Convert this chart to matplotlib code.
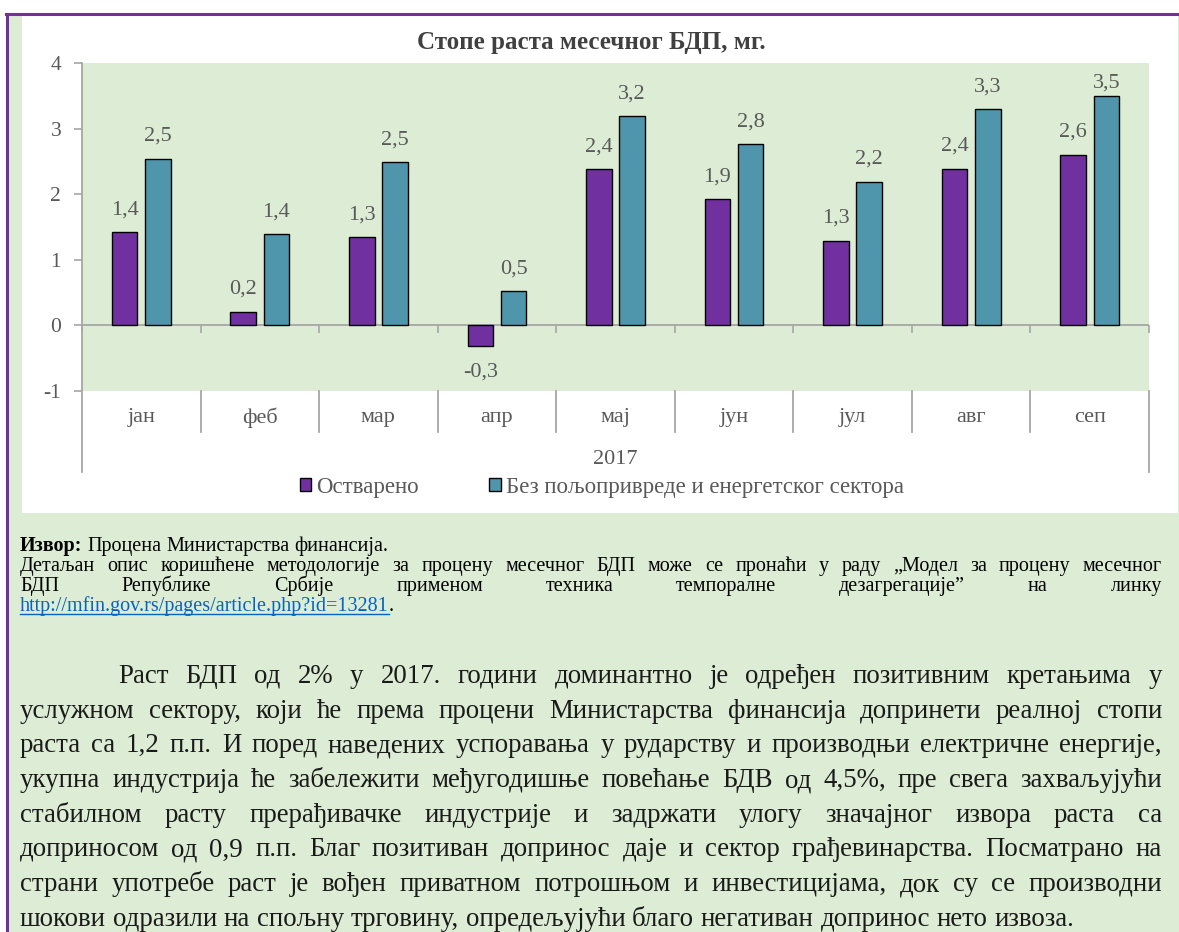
import matplotlib
matplotlib.use("Agg")
import matplotlib.pyplot as plt
import numpy as np
from matplotlib.patches import Rectangle, Patch
from matplotlib.lines import Line2D
from matplotlib.transforms import blended_transform_factory

plt.rcParams['font.family'] = ['Liberation Serif', 'DejaVu Serif']
plt.rcParams['axes.unicode_minus'] = False

# data
months = ['јан', 'феб', 'мар', 'апр', 'мај', 'јун', 'јул', 'авг', 'сеп']
ostvareno = [1.42, 0.21, 1.34, -0.31, 2.38, 1.92, 1.29, 2.39, 2.60]
bez_polj = [2.54, 1.39, 2.49, 0.52, 3.19, 2.76, 2.19, 3.30, 3.50]
year = '2017'
title = 'Стопе раста месечног БДП, мг.'
series_names = ['Остварено', 'Без пољопривреде и енергетског сектора']

source_bold = 'Извор:'
source_rest = 'Процена Министарства финансија.'
source_lines = [
    'Детаљан опис коришћене методологије за процену месечног БДП може се пронаћи у раду „Модел за процену месечног',
    'БДП Републике Србије применом техника темпоралне дезагрегације” на линку',
]
link = 'http://mfin.gov.rs/pages/article.php?id=13281'
paragraph = [
    'Раст БДП од 2% у 2017. години доминантно је одређен позитивним кретањима у',
    'услужном сектору, који ће према процени Министарства финансија допринети реалној стопи',
    'раста са 1,2 п.п. И поред наведених успоравања у рударству и производњи електричне енергије,',
    'укупна индустрија ће забележити међугодишње повећање БДВ од 4,5%, пре свега захваљујући',
    'стабилном расту прерађивачке индустрије и задржати улогу значајног извора раста са',
    'доприносом од 0,9 п.п. Благ позитиван допринос даје и сектор грађевинарства. Посматрано на',
    'страни употребе раст је вођен приватном потрошњом и инвестицијама, док су се производни',
    'шокови одразили на спољну трговину, опредељујући благо негативан допринос нето извоза.',
]

PURPLE = '#7030A0'
TEAL = '#4F96AD'
GREEN = '#DDEDD5'
GRAY = '#A6A6A6'
TXT = '#595959'
FS = 16

W, H = 1179, 932
fx = lambda px: px / W
fy = lambda py: 1 - py / H

fig = plt.figure(figsize=(W / 100, H / 100), dpi=100)
fig.patch.set_facecolor('white')

# page shading, border and white chart box
fig.patches.append(Rectangle((fx(6), 0), 1 - fx(6), fy(13), transform=fig.transFigure,
                             facecolor=GREEN, edgecolor='none', zorder=-3))
fig.patches.append(Rectangle((fx(22), fy(513)), fx(1178) - fx(22), fy(16) - fy(513),
                             transform=fig.transFigure, facecolor='white', edgecolor='none', zorder=-2))
fig.add_artist(Line2D([fx(6), 1], [fy(14), fy(14)], color=PURPLE, lw=2.2, transform=fig.transFigure))
fig.add_artist(Line2D([fx(7), fx(7)], [fy(14), 0], color=PURPLE, lw=2.2, transform=fig.transFigure))

# chart
ax = fig.add_axes([fx(82), fy(391), fx(1149) - fx(82), fy(63) - fy(391)])
ax.set_facecolor(GREEN)
x = np.arange(len(months))
ax.bar(x - 0.14, ostvareno, 0.215, color=PURPLE, edgecolor='black', linewidth=1, zorder=3)
ax.bar(x + 0.14, bez_polj, 0.215, color=TEAL, edgecolor='black', linewidth=1, zorder=3)
ax.set_xlim(-0.5, len(months) - 0.5)
ax.set_ylim(-1, 4)
ax.set_yticks(range(-1, 5))
ax.set_xticks([])
for s in ax.spines.values():
    s.set_visible(False)
ax.tick_params(axis='y', length=6, width=1.2, color=GRAY, labelcolor=TXT, labelsize=15.5, pad=9)
ax.axhline(0, color=GRAY, lw=1.3, zorder=2)

bounds = np.arange(len(months) + 1) - 0.5
ax.plot(bounds, np.zeros(len(bounds)), linestyle='none', marker=3, markersize=6,
        mew=1.2, color=GRAY, zorder=2, clip_on=False)
blend = blended_transform_factory(ax.transData, ax.transAxes)
for i, b in enumerate(bounds):
    bot = -0.247 if i in (0, len(bounds) - 1) else -0.125
    top = 1 if i == 0 else 0
    ax.plot([b, b], [top, bot], color=GRAY, lw=1.3, transform=blend, clip_on=False)
for i, m in enumerate(months):
    ax.text(i, -0.082, m, transform=blend, ha='center', va='center', fontsize=FS, color=TXT)
ax.text(0.5, -0.21, year, transform=ax.transAxes, ha='center', va='center', fontsize=FS, color=TXT)

def fmt(v):
    return f'{v:.1f}'.replace('.', ',')

# value labels sit a fixed gap off the bar end, kept inside the plot area like Excel does
for off, vals in ((-0.14, ostvareno), (0.14, bez_polj)):
    for xi, v in zip(x, vals):
        ly = min(v + 0.34, 3.7) if v >= 0 else v - 0.40
        ax.text(xi + off, ly, fmt(v), ha='center', va='center', fontsize=FS, color=TXT)

handles = [Patch(facecolor=PURPLE, edgecolor='black'), Patch(facecolor=TEAL, edgecolor='black')]
ax.legend(handles, series_names, loc='center', bbox_to_anchor=(0.487, -0.293), ncol=2,
          frameon=False, fontsize=16.5, labelcolor=TXT, handlelength=0.5, handleheight=0.5,
          handletextpad=0.2, columnspacing=3.1, borderaxespad=0)

fig.text(fx(591), fy(42), title, ha='center', va='center', fontsize=18,
         fontweight='bold', color='#404040')

# text below the chart
renderer = fig.canvas.get_renderer()

def width(s, **kw):
    t = fig.text(0, 0, s, **kw)
    w = t.get_window_extent(renderer).width
    t.remove()
    return w

def put_line(line, x0, y, x1=None, **kw):
    words = line.split(' ')
    ts = [fig.text(0, fy(y), w, va='baseline', ha='left', **kw) for w in words]
    ws = [t.get_window_extent(renderer).width for t in ts]
    if x1 is None or len(ws) < 2:
        gap = width('x x', **kw) - width('xx', **kw)
    else:
        gap = (x1 - x0 - sum(ws)) / (len(ws) - 1)
    xp = x0
    for t, w in zip(ts, ws):
        t.set_x(fx(xp))
        xp += w + gap
    return xp - gap

# size the paragraph font so its last (unjustified) line ends where it does on the page
par_size = 19 * (1077 - 20) / width(paragraph[-1], fontsize=19)

src_kw = dict(fontsize=14.5, color='black')
t = fig.text(fx(20), fy(551), source_bold, va='baseline', ha='left', fontweight='bold', **src_kw)
bw = t.get_window_extent(renderer).width
put_line(source_rest, 20 + bw + width('x x', **src_kw) - width('xx', **src_kw), 551, **src_kw)
put_line(source_lines[0], 20, 571, 1162, **src_kw)
put_line(source_lines[1], 20, 591, 1162, **src_kw)
lt = fig.text(fx(20), fy(611), link, va='baseline', ha='left', fontsize=14.5, color='#0563C1')
lw_ = lt.get_window_extent(renderer).width
fig.text(fx(20 + lw_), fy(611), '.', va='baseline', ha='left', **src_kw)
fig.add_artist(Line2D([fx(20), fx(20 + lw_)], [fy(613.5), fy(613.5)], color='#0563C1', lw=1,
                      transform=fig.transFigure))

par_kw = dict(fontsize=par_size, color='#1A1A1A')
for i, line in enumerate(paragraph):
    y = 683 + i * 34.7
    x0 = 118 if i == 0 else 20
    x1 = None if i == len(paragraph) - 1 else 1162
    put_line(line, x0, y, x1, **par_kw)

fig.savefig('out.png', dpi=100)
